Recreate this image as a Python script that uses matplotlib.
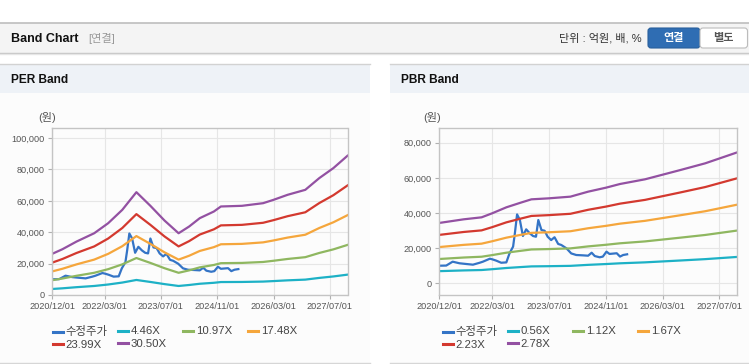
import matplotlib
matplotlib.use('Agg')
import matplotlib.pyplot as plt
import matplotlib.ticker as mticker
from matplotlib.patches import Rectangle, FancyBboxPatch
import pandas as pd

plt.rcParams['font.family'] = ['Liberation Sans', 'Noto Sans CJK KR', 'DejaVu Sans']

# ---------------- data ----------------
price_dates = ['2020-12-01', '2021-02-01', '2021-03-28', '2021-05-25', '2021-07-20', '2021-09-18',
               '2021-11-15', '2021-12-12', '2022-02-10', '2022-03-05', '2022-04-05', '2022-05-18',
               '2022-07-01', '2022-07-28', '2022-08-28', '2022-09-12', '2022-10-01', '2022-10-25',
               '2022-11-20', '2022-12-18', '2023-01-18', '2023-02-15', '2023-03-12', '2023-04-01',
               '2023-04-28', '2023-05-25', '2023-06-20', '2023-07-20', '2023-08-18', '2023-09-18',
               '2023-10-15', '2023-11-28', '2024-01-08', '2024-02-20', '2024-04-18', '2024-06-01',
               '2024-07-01', '2024-07-28', '2024-09-08', '2024-10-05', '2024-11-05', '2024-12-01',
               '2025-02-01', '2025-03-01', '2025-03-28', '2025-05-01']
price = [10000, 10100, 12300, 11400, 11000, 10600,
         11700, 12300, 14000, 13600, 12900, 11700,
         11900, 17000, 20900, 28400, 39200, 36000,
         26900, 30700, 28400, 26900, 26500, 36000,
         30300, 29900, 26500, 24600, 26200, 22400,
         21800, 19900, 17000, 16100, 15900, 15700,
         17400, 15500, 14800, 15200, 18000, 16700,
         17100, 15200, 16100, 16500]

per_dates = ['2020-12-01', '2021-03-01', '2021-07-01', '2021-12-01', '2022-04-01', '2022-08-01',
             '2022-12-01', '2023-04-01', '2023-08-01', '2023-12-01', '2024-03-01', '2024-06-01',
             '2024-10-01', '2024-12-01', '2025-06-01', '2025-12-01', '2026-03-01', '2026-07-01',
             '2026-12-01', '2027-04-01', '2027-08-01', '2027-12-01']
per_446 = [3830, 4260, 4980, 5750, 6690, 7930, 9580, 8310, 6940, 5750, 6380, 7160,
           7780, 8250, 8310, 8550, 8870, 9340, 9800, 10890, 11820, 12970]
per_1097 = [9410, 10490, 12240, 14150, 16460, 19520, 23560, 20440, 17070, 14150, 15690, 17610,
            19130, 20280, 20440, 21040, 21810, 22960, 24100, 26790, 29080, 31910]
per_1748 = [15000, 16710, 19510, 22550, 26220, 31100, 37550, 32570, 27200, 22550, 25000, 28060,
            30490, 32320, 32570, 33530, 34750, 36590, 38400, 42690, 46340, 50850]
per_2399 = [20580, 22930, 26770, 30950, 35990, 42680, 51530, 44690, 37330, 30950, 34310, 38500,
            41840, 44360, 44690, 46010, 47690, 50210, 52710, 58580, 63600, 69790]
per_3050 = [26170, 29160, 34040, 39350, 45750, 54260, 65510, 56820, 47460, 39350, 43620, 48950,
            53190, 56400, 56820, 58500, 60630, 63840, 67010, 74480, 80860, 88730]
per_labels = ['수정주가', '4.46X', '10.97X', '17.48X', '23.99X', '30.50X']

pbr_dates = ['2020-12-01', '2021-07-01', '2021-12-01', '2022-03-01', '2022-07-01', '2022-11-01',
             '2023-02-01', '2023-07-01', '2024-01-01', '2024-06-01', '2024-11-01', '2025-03-01',
             '2025-10-01', '2026-08-01', '2027-03-01', '2027-12-01']
pbr_056 = [6910, 7330, 7560, 8020, 8710, 9240, 9620, 9740, 9930, 10500, 10960, 11380,
           11920, 12980, 13750, 15010]
pbr_112 = [13820, 14670, 15120, 16040, 17410, 18480, 19250, 19480, 19860, 21000, 21920, 22760,
           23830, 25970, 27500, 30020]
pbr_167 = [20610, 21870, 22550, 23910, 25960, 27560, 28700, 29040, 29610, 31320, 32680, 33930,
           35530, 38720, 41000, 44750]
pbr_223 = [27520, 29200, 30110, 31930, 34670, 36800, 38320, 38780, 39540, 41820, 43640, 45310,
           47450, 51700, 54750, 59760]
pbr_278 = [34310, 36400, 37530, 39810, 43220, 45870, 47770, 48340, 49290, 52130, 54400, 56490,
           59150, 64450, 68250, 74500]
pbr_labels = ['수정주가', '0.56X', '1.12X', '1.67X', '2.23X', '2.78X']

x_ticks = ['2020-12-01', '2022-03-01', '2023-07-01', '2024-11-01', '2026-03-01', '2027-07-01']
x_tick_labels = ['2020/12/01', '2022/03/01', '2023/07/01', '2024/11/01', '2026/03/01', '2027/07/01']
per_yticks = [0, 20000, 40000, 60000, 80000, 100000]
pbr_yticks = [0, 20000, 40000, 60000, 80000]

colors = ['#3474c6', '#1db1c6', '#8fb760', '#f5a63c', '#d3392f', '#9351a2']

# ---------------- figure ----------------
W, H = 749, 364
fig = plt.figure(figsize=(W / 100, H / 100), dpi=100)
fig.patch.set_facecolor('white')

bg = fig.add_axes([0, 0, 1, 1])
bg.set_xlim(0, W)
bg.set_ylim(H, 0)
bg.axis('off')
bg.set_zorder(-1)

# top header bar
bg.add_patch(Rectangle((0, 22.5), W, 30, fc='#f4f4f4', ec='none'))
bg.plot([0, W], [22.5, 22.5], color='#bdbdbd', lw=1.2)
bg.plot([0, W], [53, 53], color='#c4c4c4', lw=1.0)
bg.plot([0, W], [54.2, 54.2], color='#e6e6e6', lw=1.0)
bg.text(11, 38.5, 'Band Chart', fontsize=9.0, fontweight='bold', color='#111111', va='center', ha='left')
bg.text(88, 38.5, '[연결]', fontsize=8.0, color='#999999', va='center', ha='left')
bg.text(642, 38.5, '단위 : 억원, 배, %', fontsize=8.0, color='#333333', va='center', ha='right')
bg.add_patch(FancyBboxPatch((648, 28), 52, 20, boxstyle='round,pad=0,rounding_size=3',
                            fc='#2f6db3', ec='#295f9c', lw=0.8))
bg.add_patch(FancyBboxPatch((700, 28), 47.5, 20, boxstyle='round,pad=0,rounding_size=3',
                            fc='#ffffff', ec='#bcbcbc', lw=0.8))
bg.text(674, 38.5, '연결', fontsize=8.0, fontweight='bold', color='white', va='center', ha='center')
bg.text(723.5, 38.5, '별도', fontsize=8.0, fontweight='bold', color='#555555', va='center', ha='center')

# panels
for x0, x1, title in [(0, 370, 'PER Band'), (390, W, 'PBR Band')]:
    bg.add_patch(Rectangle((x0, 92.5), x1 - x0, 270, fc='#fcfcfc', ec='none'))
    bg.add_patch(Rectangle((x0, 64.5), x1 - x0, 28, fc='#eef2f7', ec='none'))
    bg.plot([x0, x1], [64.3, 64.3], color='#d2d2d2', lw=1.0)
    bg.plot([x0, x1], [362.7, 362.7], color='#d6d6d6', lw=1.0)
    bg.text(x0 + 11, 80, title, fontsize=8.6, fontweight='bold', color='#111111', va='center', ha='left')

bg.text(38, 117.5, '(원)', fontsize=8.0, color='#555555', va='center', ha='left')
bg.text(423, 117.5, '(원)', fontsize=8.0, color='#555555', va='center', ha='left')


def fx(px):
    return px / W


def fy(py):
    return 1 - py / H


def make_chart(rect_px, band_dates, bands, labels, yticks, ylim, leg_x):
    l, t, r, b = rect_px
    ax = fig.add_axes([fx(l), fy(b), (r - l) / W, (b - t) / H])
    ax.set_facecolor('none')
    pdates = pd.to_datetime(price_dates)
    bdates = pd.to_datetime(band_dates)
    handles = []
    h, = ax.plot(pdates, price, color=colors[0], lw=1.6, solid_joinstyle='round')
    handles.append(h)
    for i, vals in enumerate(bands):
        h, = ax.plot(bdates, vals, color=colors[i + 1], lw=1.6, solid_joinstyle='round')
        handles.append(h)
    ax.set_xlim(pd.Timestamp('2020-12-01'), pd.Timestamp('2027-12-01'))
    ax.set_ylim(*ylim)
    ax.set_xticks(pd.to_datetime(x_ticks))
    ax.set_xticklabels(x_tick_labels)
    ax.set_yticks(yticks)
    ax.yaxis.set_major_formatter(mticker.FuncFormatter(lambda v, p: f'{int(v):,}'))
    ax.grid(True, color='#e6e6e6', lw=0.8)
    ax.set_axisbelow(True)
    for s in ax.spines.values():
        s.set_color('#c4c4c4')
        s.set_linewidth(1.0)
    ax.tick_params(axis='both', colors='#b0b0b0', labelcolor='#555555', labelsize=6.6,
                   length=3, width=0.8, pad=2)
    # legend in columns
    cols = [[0, 4], [1, 5], [2], [3]]
    for j, idx in enumerate(cols):
        leg = fig.legend([handles[k] for k in idx], [labels[k] for k in idx],
                         loc='upper left', bbox_to_anchor=(fx(leg_x + 65 * j), fy(326.5)),
                         frameon=False, fontsize=8.2, handlelength=0.9, handletextpad=0.22,
                         labelspacing=0.2, borderpad=0, borderaxespad=0)
        for txt in leg.get_texts():
            txt.set_color('#444444')
        for ln in leg.get_lines():
            ln.set_linewidth(2.2)
    return ax


make_chart((52, 128, 347.5, 295), per_dates,
           [per_446, per_1097, per_1748, per_2399, per_3050], per_labels,
           per_yticks, (0, 106400), 53)
make_chart((439, 128, 737.3, 295), pbr_dates,
           [pbr_056, pbr_112, pbr_167, pbr_223, pbr_278], pbr_labels,
           pbr_yticks, (-6650, 88340), 443)

fig.savefig('out.png', dpi=100)
